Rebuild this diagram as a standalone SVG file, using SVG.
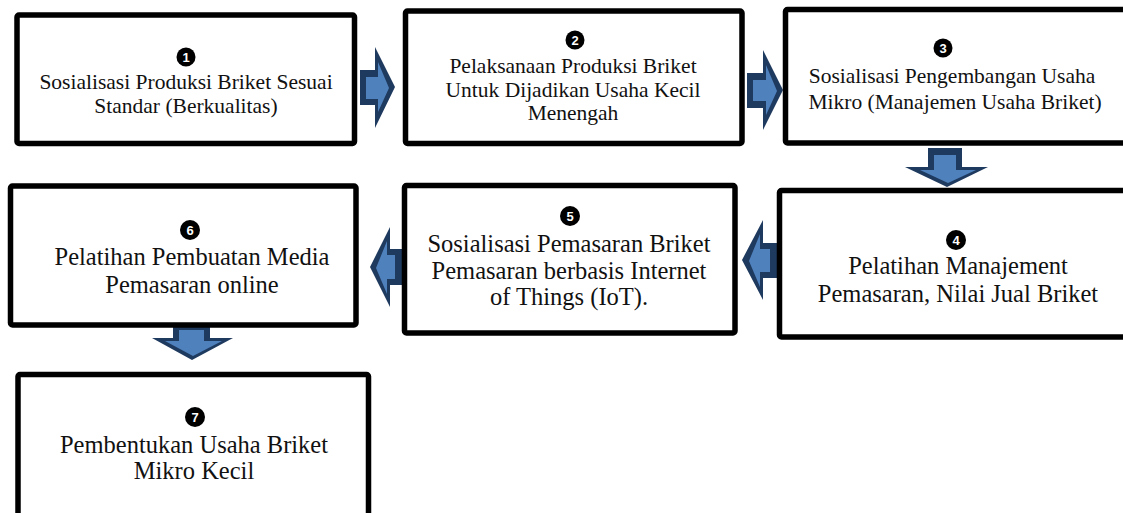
<svg xmlns="http://www.w3.org/2000/svg" width="1123" height="513" viewBox="0 0 1123 513">
<style>
.box{fill:#fff;stroke:#000;stroke-width:5.5}
.t{font-family:"Liberation Serif","Times New Roman",serif;fill:#111;text-anchor:middle}
.s{font-size:21.5px}
.l{font-size:24.5px}
.num{fill:#000}
.nt{font-family:"Liberation Sans",Arial,sans-serif;font-size:13px;font-weight:bold;fill:#fff;text-anchor:middle}
.ao{fill:#1F3A5F}
.ai{fill:#4F81BD}
</style>
<rect width="1123" height="513" fill="#fff"/>
<g id="connectors">
  <g id="a12"><polygon class="ao" points="360,70 375,70 375,47 395,87 375,128 375,105 360,105"/><polygon class="ai" points="366,77 378,77 378,62 389,88 378,112 378,99 366,99"/></g>
  <g id="a23"><polygon class="ao" points="747,73 763,73 763,50 783,90 763,130 763,108 747,108"/><polygon class="ai" points="753,80 766,80 766,65 777,91 766,115 766,101 753,101"/></g>
  <g id="a34"><polygon class="ao" points="928,148 962,148 962,167 988,167 947,187 905,167 928,167"/><polygon class="ai" points="934,155 956,155 956,170 976,170 948,183 920,170 934,170"/></g>
  <g id="a45"><polygon class="ao" points="777,243 777,278 763,278 763,300 742,260 763,220 763,243"/><polygon class="ai" points="770,249 770,272 760,272 760,287 749,261 760,234 760,249"/></g>
  <g id="a56"><polygon class="ao" points="402,249 402,285 390,285 390,307 370,267 390,227 390,249"/><polygon class="ai" points="395,255 395,279 387,279 387,294 376,268 387,241 387,255"/></g>
  <g id="a67"><polygon class="ao" points="173,323 210,323 210,338 233,338 192,360 152,338 173,338"/><polygon class="ai" points="179,330 204,330 204,341 222,341 193,356 165,341 179,341"/></g>
</g>
<g id="n1"><rect class="box" x="17" y="15" width="337.5" height="128.5" rx="2"/><circle class="num" cx="186" cy="57" r="9.5"/><text class="nt" x="186" y="61.5">1</text><text class="t s" x="186" y="89">Sosialisasi Produksi Briket Sesuai</text><text class="t s" x="186" y="113">Standar (Berkualitas)</text></g>
<g id="n2"><rect class="box" x="405.5" y="11" width="336.5" height="132.5" rx="2"/><circle class="num" cx="575" cy="40" r="9.5"/><text class="nt" x="575" y="44.5">2</text><text class="t s" x="573" y="73">Pelaksanaan Produksi Briket</text><text class="t s" x="573" y="97">Untuk Dijadikan Usaha Kecil</text><text class="t s" x="573" y="120">Menengah</text></g>
<g id="n3"><rect class="box" x="785.5" y="9.5" width="345" height="133.5" rx="2"/><circle class="num" cx="943" cy="48" r="9.5"/><text class="nt" x="943" y="52.5">3</text><text class="t s" x="952" y="83">Sosialisasi Pengembangan Usaha</text><text class="t s" x="955" y="109">Mikro (Manajemen Usaha Briket)</text></g>
<g id="n4"><rect class="box" x="779.5" y="190.5" width="350" height="146.5" rx="2"/><circle class="num" cx="956" cy="240" r="10"/><text class="nt" x="956" y="244.5">4</text><text class="t l" x="958" y="274">Pelatihan Manajement</text><text class="t l" x="958" y="302">Pemasaran, Nilai Jual Briket</text></g>
<g id="n5"><rect class="box" x="404.5" y="185.5" width="330.5" height="147.5" rx="2"/><circle class="num" cx="570" cy="216" r="10"/><text class="nt" x="570" y="220.5">5</text><text class="t l" x="569" y="252">Sosialisasi Pemasaran Briket</text><text class="t l" x="569" y="279">Pemasaran berbasis Internet</text><text class="t l" x="569" y="305">of Things (IoT).</text></g>
<g id="n6"><rect class="box" x="10.5" y="186" width="345.5" height="139" rx="2"/><circle class="num" cx="190" cy="230" r="10"/><text class="nt" x="190" y="234.5">6</text><text class="t l" x="192" y="265">Pelatihan Pembuatan Media</text><text class="t l" x="192" y="293">Pemasaran online</text></g>
<g id="n7"><rect class="box" x="18" y="374.5" width="350.5" height="150" rx="2"/><circle class="num" cx="195" cy="417" r="10"/><text class="nt" x="195" y="421.5">7</text><text class="t l" x="194" y="453">Pembentukan Usaha Briket</text><text class="t l" x="194" y="479">Mikro Kecil</text></g>
</svg>
